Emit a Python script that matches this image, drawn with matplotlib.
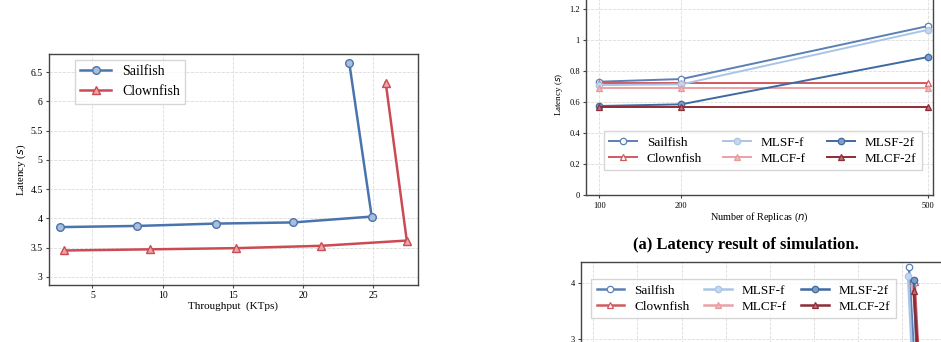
import numpy as np
import matplotlib.pyplot as plt

plt.rcParams['font.family'] = ['Liberation Serif', 'DejaVu Serif']

# left: throughput vs latency
sail_tput = [2.7, 8.2, 13.8, 19.3, 24.9, 23.3]
sail_lat = [3.85, 3.87, 3.91, 3.93, 4.03, 6.66]
clown_tput = [3.0, 9.1, 15.2, 21.3, 27.4, 25.9]
clown_lat = [3.45, 3.47, 3.49, 3.53, 3.62, 6.32]

# right top: simulation latency vs number of replicas
replicas = [100, 200, 500]
sim_lat = {
    "Sailfish": [0.733, 0.750, 1.092],
    "Clownfish": [0.726, 0.726, 0.726],
    "MLSF-f": [0.711, 0.716, 1.068],
    "MLCF-f": [0.694, 0.694, 0.694],
    "MLSF-2f": [0.576, 0.587, 0.892],
    "MLCF-2f": [0.570, 0.570, 0.570],
}

# right bottom: only the tail of the curves is visible
bot_x = {
    "Sailfish": [81.5, 83.5],
    "Clownfish": [82.8, 84.6],
    "MLSF-f": [81.3, 83.0],
    "MLCF-f": [82.4, 84.5],
    "MLSF-2f": [82.6, 84.0],
    "MLCF-2f": [82.6, 85.0],
}
bot_y = {
    "Sailfish": [4.29, 1.5],
    "Clownfish": [4.02, 1.3],
    "MLSF-f": [4.14, 1.4],
    "MLCF-f": [4.00, 1.3],
    "MLSF-2f": [4.07, 1.2],
    "MLCF-2f": [3.86, 1.0],
}

styles = {
    "Sailfish": dict(color="#5b80b6", marker="o", mfc="white", mec="#5b80b6"),
    "Clownfish": dict(color="#d05a60", marker="^", mfc="white", mec="#d05a60"),
    "MLSF-f": dict(color="#a9c5e6", marker="o", mfc="#c4d7ee", mec="#a9c5e6"),
    "MLCF-f": dict(color="#eba1a4", marker="^", mfc="#f0b8ba", mec="#e69a9d"),
    "MLSF-2f": dict(color="#3e6aa2", marker="o", mfc="#7e9fca", mec="#3e6aa2"),
    "MLCF-2f": dict(color="#8f2b37", marker="^", mfc="#b8727a", mec="#8f2b37"),
}
order = ["Sailfish", "Clownfish", "MLSF-f", "MLCF-f", "MLSF-2f", "MLCF-2f"]

W, H = 941, 342
fig = plt.figure(figsize=(W / 100, H / 100), dpi=100)


def px_axes(l, t, r, b):
    return fig.add_axes([l / W, 1 - b / H, (r - l) / W, (b - t) / H])


def style_ax(ax, size):
    for s in ax.spines.values():
        s.set_color("#444444")
        s.set_linewidth(1.0)
    ax.grid(True, ls="--", color="#dcdcdc", lw=0.6)
    ax.set_axisbelow(True)
    ax.tick_params(labelsize=size, length=2.5, width=0.8, color="#444444", pad=2)


leg_kw = dict(frameon=True, fancybox=False, edgecolor="#cccccc", borderaxespad=0)

# ---- left chart
ax1 = px_axes(49, 54, 418, 285)
style_ax(ax1, 7)
ax1.plot(sail_tput, sail_lat, color="#4a74ad", lw=1.8, marker="o", ms=5.5,
         mfc="#a8bedb", mec="#4a74ad", mew=1.0, label="Sailfish")
ax1.plot(clown_tput, clown_lat, color="#cc4b53", lw=1.8, marker="^", ms=5.5,
         mfc="#eba5a8", mec="#cc4b53", mew=1.0, label="Clownfish")
ax1.set_xlim(1.9, 28.2)
ax1.set_ylim(2.86, 6.81)
ax1.set_xticks([5, 10, 15, 20, 25])
ax1.set_yticks([3, 3.5, 4, 4.5, 5, 5.5, 6, 6.5])
ax1.set_yticklabels(["3", "3.5", "4", "4.5", "5", "5.5", "6", "6.5"])
ax1.set_xlabel("Throughput  (KTps)", fontsize=8, labelpad=1)
ax1.set_ylabel("Latency ($s$)", fontsize=7.8, labelpad=2)
ax1.legend(loc="upper left", bbox_to_anchor=(0.07, 0.975), fontsize=10,
           handlelength=2.2, **leg_kw)

# ---- right top chart
ax2 = px_axes(586, -6.2, 933, 195.3)
style_ax(ax2, 6)
for name in order:
    ax2.plot(replicas, sim_lat[name], lw=1.4, ms=4.6, mew=0.9, label=name,
             **styles[name])
ax2.set_xlim(84, 506)
ax2.set_ylim(0, 1.3)
ax2.set_xticks(replicas)
ax2.set_yticks([0, 0.2, 0.4, 0.6, 0.8, 1.0, 1.2])
ax2.set_yticklabels(["0", "0.2", "0.4", "0.6", "0.8", "1", "1.2"])
ax2.set_xlabel("Number of Replicas ($n$)", fontsize=7.3, labelpad=1)
ax2.set_ylabel("Latency ($s$)", fontsize=6.5, labelpad=3)
ax2.legend(loc="upper left", bbox_to_anchor=(0.052, 0.319), ncol=3,
           fontsize=9.5, handlelength=2.1, handletextpad=0.75,
           columnspacing=1.6, labelspacing=0.32, **leg_kw)

fig.text(745.7 / W, 1 - 245 / H, "(a) Latency result of simulation.",
         ha="center", va="center", fontsize=12, fontweight="bold")

# ---- right bottom chart (cut off)
ax3 = px_axes(581, 262.3, 950, 450.5)
style_ax(ax3, 6)
for name in order:
    ax3.plot(bot_x[name], bot_y[name], lw=1.8, ms=4.6, mew=0.9, label=name,
             **styles[name])
ax3.set_xlim(7.2, 90.8)
ax3.set_ylim(1.1, 4.38)
ax3.set_xticks(np.arange(10, 100, 10))
ax3.set_xticklabels([])
ax3.set_yticks([1, 2, 3, 4])
ax3.legend(loc="upper left", bbox_to_anchor=(0.028, 0.911), ncol=3,
           fontsize=9.5, handlelength=2.1, handletextpad=0.75,
           columnspacing=1.1, labelspacing=0.32, **leg_kw)

fig.savefig("out.png", dpi=100)
